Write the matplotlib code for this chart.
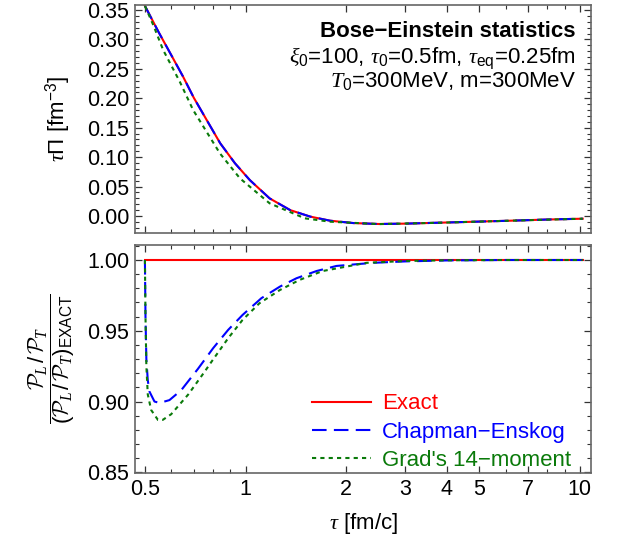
import matplotlib
matplotlib.use("Agg")
import matplotlib.pyplot as plt
from matplotlib.ticker import FixedLocator, NullFormatter, FixedFormatter

plt.rcParams['font.family'] = ['Liberation Sans', 'DejaVu Sans']
plt.rcParams['mathtext.fontset'] = 'custom'
plt.rcParams['mathtext.rm'] = 'Liberation Sans'
plt.rcParams['mathtext.it'] = 'Liberation Serif:italic'
plt.rcParams['mathtext.cal'] = 'cmsy10'

# ---------------- data ----------------
tau_top = [0.5, 0.55, 0.6, 0.65, 0.7, 0.76, 0.84, 0.93, 1.03, 1.18, 1.36, 1.56,
           1.79, 2.1, 2.5, 3.0, 3.8, 5.0, 6.2, 8.0, 10.2]
pi_exact = [0.357, 0.312, 0.273, 0.237, 0.201, 0.166, 0.1235, 0.0895, 0.061, 0.030,
            0.010, -0.001, -0.008, -0.012, -0.0136, -0.013, -0.0114, -0.0095,
            -0.008, -0.006, -0.0046]
pi_ce = pi_exact
tau_top_g = [0.5, 0.53, 0.567, 0.636, 0.697, 0.722, 0.838, 0.962, 1.18, 1.505,
             1.79, 2.5, 3.8, 6.2, 10.2]
pi_grad = [0.357, 0.324, 0.282, 0.228, 0.180, 0.166, 0.1065, 0.064, 0.0216, -0.004,
           -0.0097, -0.0138, -0.0115, -0.008, -0.0046]

tau_exact = [0.5, 10.2]
ratio_exact = [1.0, 1.0]
tau_ce = [0.5, 0.502, 0.505, 0.51, 0.516, 0.534, 0.553, 0.592, 0.642, 0.72, 0.80,
          0.887, 0.98, 1.115, 1.267, 1.42, 1.63, 1.87, 2.4, 3.0, 4.0, 6.0, 10.2]
ratio_ce = [1.0, 0.96, 0.93, 0.915, 0.907, 0.900, 0.899, 0.901, 0.908, 0.923, 0.9377,
            0.9506, 0.9612, 0.973, 0.9812, 0.9871, 0.9922, 0.9958, 0.998, 0.999,
            0.9997, 1.0, 1.0]
tau_g = [0.5, 0.502, 0.505, 0.51, 0.522, 0.547, 0.565, 0.599, 0.674, 0.754, 0.792,
         0.887, 0.98, 1.10, 1.267, 1.45, 1.70, 2.3, 3.0, 4.0, 6.0, 10.2]
ratio_g = [1.0, 0.96, 0.925, 0.905, 0.894, 0.887, 0.887, 0.891, 0.905, 0.921, 0.9283,
           0.9447, 0.9577, 0.9694, 0.9788, 0.9859, 0.9922, 0.998, 0.9993, 0.9998,
           1.0, 1.0]

xmajor = [0.5, 1, 2, 3, 4, 5, 7, 10]
xmajor_labels = ['0.5', '1', '2', '3', '4', '5', '7', '10']
xminor = [0.6, 0.7, 0.8, 0.9, 6, 8, 9]

# ---------------- figure ----------------
fig = plt.figure(figsize=(6.18, 5.44), dpi=100)
W, H = 618, 544
ax1 = fig.add_axes([135 / W, 1 - 233 / H, 456 / W, 228 / H])
ax2 = fig.add_axes([135 / W, 1 - 473 / H, 456 / W, 228 / H])

red, blue, green = '#ff0000', '#0000ff', '#0a7a0a'
dash_b = (0, (7, 3.5))
dot_g = (0, (2, 2))

ax1.plot(tau_top, pi_exact, color=red, lw=1.5)
ax1.plot(tau_top, pi_ce, color=blue, lw=1.5, linestyle=dash_b)
ax1.plot(tau_top_g, pi_grad, color=green, lw=1.5, linestyle=dot_g)

ax2.plot(tau_exact, ratio_exact, color=red, lw=1.5, label='Exact')
ax2.plot(tau_ce, ratio_ce, color=blue, lw=1.5, linestyle=dash_b, label='Chapman\u2212Enskog')
ax2.plot(tau_g, ratio_g, color=green, lw=1.5, linestyle=dot_g, label="Grad's 14\u2212moment")

for ax in (ax1, ax2):
    ax.set_xscale('log')
    ax.set_xlim(0.467, 10.8)
    ax.xaxis.set_major_locator(FixedLocator(xmajor))
    ax.xaxis.set_minor_locator(FixedLocator(xminor))
    ax.xaxis.set_minor_formatter(NullFormatter())
    ax.tick_params(which='both', direction='in', top=True, right=True,
                   labelsize=15.5, color='#333333', pad=4)
    ax.tick_params(which='major', length=5, width=0.9)
    ax.tick_params(which='minor', length=3, width=0.8)
    for s in ax.spines.values():
        s.set_color('#666666')
        s.set_linewidth(1.2)

ax1.xaxis.set_major_formatter(NullFormatter())
ax2.xaxis.set_major_formatter(FixedFormatter(xmajor_labels))

ax1.set_ylim(-0.0289, 0.3585)
ax1.set_yticks([0.0, 0.05, 0.10, 0.15, 0.20, 0.25, 0.30, 0.35])
ax1.set_yticklabels(['0.00', '0.05', '0.10', '0.15', '0.20', '0.25', '0.30', '0.35'])
ax1.yaxis.set_minor_locator(FixedLocator([i * 0.01 for i in range(-2, 36)]))
ax1.set_ylabel(r'$\tau\Pi$ [fm$^{-3}$]', fontsize=16)
ax1.yaxis.set_label_coords(-0.135, 0.5)

ax2.set_ylim(0.8495, 1.0106)
ax2.set_yticks([0.85, 0.90, 0.95, 1.00])
ax2.set_yticklabels(['0.85', '0.90', '0.95', '1.00'])
ax2.yaxis.set_minor_locator(FixedLocator([0.85 + i * 0.01 for i in range(17)]))
ax2.set_ylabel(r'$\dfrac{\mathcal{P}_L\,/\,\mathcal{P}_T}{(\mathcal{P}_L\,/\,\mathcal{P}_T)_{\mathrm{EXACT}}}$',
               fontsize=16)
ax2.yaxis.set_label_coords(-0.128, 0.5)
ax2.set_xlabel(r'$\tau$ [fm/c]', fontsize=16, labelpad=8)

ax1.text(0.967, 0.929, 'Bose\u2212Einstein statistics', transform=ax1.transAxes,
         ha='right', va='top', fontsize=16, fontweight='bold')
ax1.text(0.967, 0.824, r'$\xi_0$=100, $\tau_0$=0.5fm, $\tau_{\mathrm{eq}}$=0.25fm',
         transform=ax1.transAxes, ha='right', va='top', fontsize=16)
ax1.text(0.967, 0.714, r'$T_0$=300MeV, m=300MeV', transform=ax1.transAxes,
         ha='right', va='top', fontsize=16)

leg = ax2.legend(loc='lower right', bbox_to_anchor=(0.985, -0.05), frameon=False,
                 fontsize=16, handlelength=2.65, handletextpad=0.5, labelspacing=0.33,
                 borderaxespad=0.2)
for txt, c in zip(leg.get_texts(), [red, blue, green]):
    txt.set_color(c)

fig.savefig('out.png', dpi=100)
